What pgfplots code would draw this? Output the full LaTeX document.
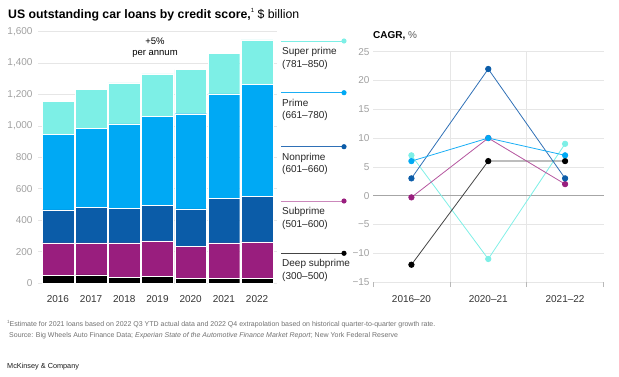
\documentclass[border=0pt]{standalone}
\usepackage{pgfplots}
\usepackage{pgfplotstable}
\usepackage{fontspec}
\setmainfont{Liberation Sans}
\pgfplotsset{compat=1.18}
\definecolor{csuper}{HTML}{7DEFE6}
\definecolor{cprime}{HTML}{00A9F4}
\definecolor{cnon}{HTML}{0B5CA8}
\definecolor{csub}{HTML}{991E7E}
\definecolor{cdeep}{HTML}{000000}
\definecolor{lsuper}{HTML}{7DEFE6}
\definecolor{lprime}{HTML}{1AAEF5}
\definecolor{lnon}{HTML}{2F70B6}
\definecolor{lsub}{HTML}{B4559E}
\definecolor{ldeep}{HTML}{444444}
\definecolor{tickgrey}{HTML}{A0A0A0}
\definecolor{gridgrey}{HTML}{E6E6E6}
\definecolor{notegrey}{HTML}{707070}

\pgfplotstableread{
x deep sub non prime super
0 49 206 211 479 210
1 51 204 226 504 247
2 38 217 222 536 260
3 43 225 228 564 271
4 28 206 238 605 280
5 28 227 285 663 259
6 28 234 291 709 284
}\loans

\pgfplotstableread{
x super prime non sub deep
0 7 6 3 -0.3 -12
1 -11 10 22 10 6
2 9 7 3 2 6
}\cagr

\begin{document}
\begin{tikzpicture}[x=1pt,y=1pt]
\useasboundingbox (0,0) rectangle (619,376);

% ---------- left: stacked bars ----------
\begin{axis}[
  at={(38pt,93pt)}, anchor=south west, scale only axis,
  width=239pt, height=251.5pt,
  xmin=-0.6, xmax=6.6, ymin=0, ymax=1600,
  ybar stacked, bar width=31.7pt,
  axis line style={draw=none}, major tick length=0pt,
  ytick={0,200,...,1600}, ymajorgrids,
  grid style={color=gridgrey, line width=0.6pt},
  xtick={0,...,6}, xticklabels={2016,2017,2018,2019,2020,2021,2022},
  /pgf/number format/assume math mode=true,
  /pgf/number format/1000 sep={,},
  yticklabel style={text=tickgrey, font=\fontsize{10}{12}\selectfont, xshift=-2pt},
  xticklabel style={text=black!80, font=\fontsize{10}{12}\selectfont, yshift=-9pt},
  every axis plot/.append style={draw=white, line width=0.4pt},
]
\addplot[fill=cdeep] table[x=x,y=deep]{\loans};
\addplot[fill=csub] table[x=x,y=sub]{\loans};
\addplot[fill=cnon] table[x=x,y=non]{\loans};
\addplot[fill=cprime] table[x=x,y=prime]{\loans};
\addplot[fill=csuper] table[x=x,y=super]{\loans};
\end{axis}

% ---------- right: CAGR lines ----------
\begin{axis}[
  at={(373pt,94pt)}, anchor=south west, scale only axis,
  width=230.5pt, height=230.3pt,
  xmin=-0.5, xmax=2.5, ymin=-15, ymax=25,
  axis line style={draw=none},
  ytick={-15,-10,...,25},
  yticklabels={−15,−10,−5,0,5,10,15,20,25},
  ymajorgrids,
  grid style={color=gridgrey, line width=0.6pt},
  xtick={0,1,2}, xticklabels={2016–20,2020–21,2021–22},
  major tick length=0pt,
  minor xtick={-0.5,0.5,1.5,2.5}, minor tick length=5pt,
  tick align=outside, xtick pos=lower, ytick pos=left,
  minor tick style={draw=gridgrey!80!black, line width=0.6pt},
  extra x ticks={0.5,1.5}, extra x tick labels={},
  extra x tick style={grid=major, major grid style={color=gridgrey, line width=0.6pt}},
  extra y ticks={0}, extra y tick labels={},
  extra y tick style={grid=major, major grid style={color=black!35, line width=0.7pt}},
  yticklabel style={text=tickgrey, font=\fontsize{10}{12}\selectfont},
  xticklabel style={text=black!80, font=\fontsize{10}{12}\selectfont, yshift=-10pt},
  clip=false,
]
\addplot[color=lsuper, line width=0.8pt, mark=*, mark size=2.7pt, mark options={fill=csuper, draw=csuper}] table[x=x,y=super]{\cagr};
\addplot[color=ldeep, line width=0.8pt, mark=*, mark size=2.7pt, mark options={fill=black, draw=black}] table[x=x,y=deep]{\cagr};
\addplot[color=lsub, line width=0.8pt, mark=*, mark size=2.7pt, mark options={fill=csub, draw=csub}] table[x=x,y=sub]{\cagr};
\addplot[color=lnon, line width=0.8pt, mark=*, mark size=2.7pt, mark options={fill=cnon, draw=cnon}] table[x=x,y=non]{\cagr};
\addplot[color=lprime, line width=0.8pt, mark=*, mark size=2.7pt, mark options={fill=cprime, draw=cprime}] table[x=x,y=prime]{\cagr};
\end{axis}

% ---------- titles ----------
\node[anchor=base west, inner sep=0] at (8,357.7)
  {\fontsize{12.3}{14}\selectfont\textbf{US outstanding car loans by credit score,}\raisebox{0.45em}{\fontsize{6}{7}\selectfont 1} \$ billion};
\node[anchor=base, inner sep=0] at (155,331) {\fontsize{9.5}{11}\selectfont +5\%};
\node[anchor=base, inner sep=0] at (155,321) {\fontsize{9.5}{11}\selectfont per annum};
\node[anchor=base west, inner sep=0] at (373,337.7)
  {\fontsize{10}{12}\selectfont\textbf{CAGR,} \textcolor{black!65}{\%}};

% ---------- legend ----------
\foreach \yy/\col/\dotc/\la/\lb in {
  335/lsuper/csuper/Super prime/(781–850),
  283.3/lprime/cprime/Prime/(661–780),
  229.3/lnon/cnon/Nonprime/(601–660),
  175/lsub!70/csub/Subprime/(501–600),
  122.7/ldeep/black/Deep subprime/(300–500)}{
  \draw[color=\col, line width=0.9pt] (281,\yy) -- (344,\yy);
  \fill[\dotc] (344,\yy) circle (2.6pt);
  \node[anchor=base west, inner sep=0, text=black!85] at (282,\yy-13.5) {\fontsize{10}{12}\selectfont \la};
  \node[anchor=base west, inner sep=0, text=black!85] at (282,\yy-26) {\fontsize{10}{12}\selectfont \lb};
}

% ---------- notes ----------
\node[anchor=base west, inner sep=0, text=notegrey] at (7,50)
  {\fontsize{7}{8}\selectfont \raisebox{0.4em}{\fontsize{4.5}{5}\selectfont 1}Estimate for 2021 loans based on 2022 Q3 YTD actual data and 2022 Q4 extrapolation based on historical quarter-to-quarter growth rate.};
\node[anchor=base west, inner sep=0, text=notegrey] at (9,39)
  {\fontsize{7}{8}\selectfont Source: Big Wheels Auto Finance Data; \textit{Experian State of the Automotive Finance Market Report}; New York Federal Reserve};
\node[anchor=base west, inner sep=0, text=black!90] at (7,8)
  {\fontsize{7.3}{9}\selectfont McKinsey \& Company};
\end{tikzpicture}
\end{document}
